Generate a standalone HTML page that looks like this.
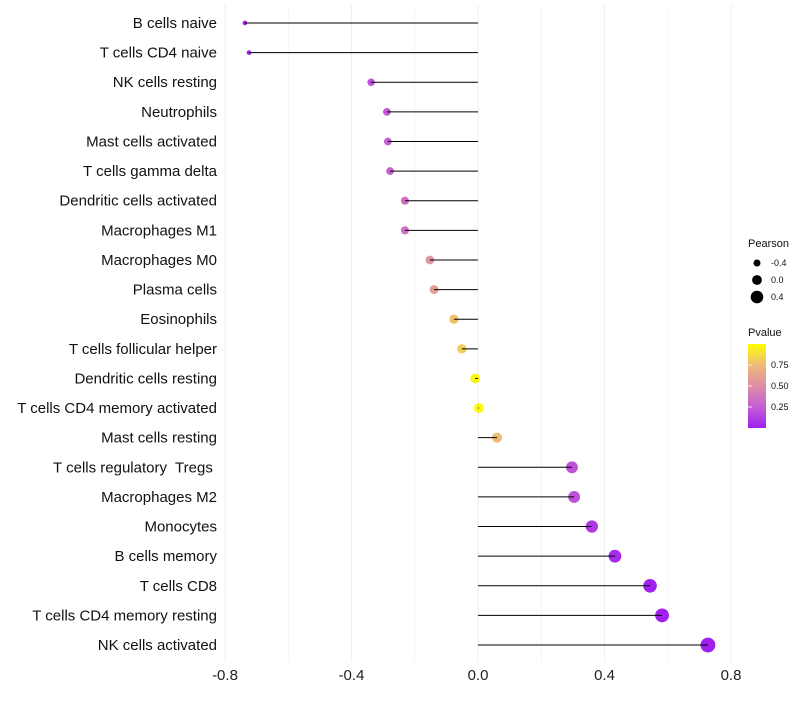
<!DOCTYPE html>
<html><head><meta charset="utf-8"><style>
body{margin:0;background:#fff;}
svg{font-family:"Liberation Sans",sans-serif;}
text{white-space:pre;}
</style></head><body>
<svg id="chart" width="800" height="700"></svg>
<script>
const categories=["B cells naive","T cells CD4 naive","NK cells resting","Neutrophils","Mast cells activated","T cells gamma delta","Dendritic cells activated","Macrophages M1","Macrophages M0","Plasma cells","Eosinophils","T cells follicular helper","Dendritic cells resting","T cells CD4 memory activated","Mast cells resting","T cells regulatory  Tregs ","Macrophages M2","Monocytes","B cells memory","T cells CD8","T cells CD4 memory resting","NK cells activated"];
const pearson=[-0.737,-0.724,-0.338,-0.288,-0.285,-0.278,-0.231,-0.231,-0.152,-0.139,-0.076,-0.051,-0.009,0.003,0.060,0.297,0.304,0.360,0.433,0.544,0.582,0.727];
const pvalue=[0.0,0.0,0.2,0.25,0.25,0.26,0.35,0.35,0.55,0.6,0.78,0.82,0.97,0.99,0.76,0.2,0.2,0.1,0.05,0.01,0.005,0.0];
const xTicks=[-0.8,-0.4,0.0,0.4,0.8];
const sizeLegend=[-0.4,0.0,0.4];
const pTicks=[0.25,0.5,0.75];

const NS="http://www.w3.org/2000/svg";
const svg=document.getElementById('chart');
const x=v=>478+v*316.25;
const y=i=>23+i*29.62;
const r=v=>4.9+3.5*v;
const stops=[[0,[160,32,240]],[0.25,[196,94,211]],[0.5,[220,142,168]],[0.75,[238,185,122]],[1,[255,255,0]]];
function col(p){for(let i=1;i<stops.length;i++){if(p<=stops[i][0]){const a=stops[i-1],b=stops[i];const t=(p-a[0])/(b[0]-a[0]);return 'rgb('+a[1].map((c,k)=>Math.round(c+(b[1][k]-c)*t)).join(',')+')';}}return 'rgb(255,255,0)';}
function el(t,a,txt){const e=document.createElementNS(NS,t);for(const k in a)e.setAttribute(k,a[k]);if(txt!==undefined)e.textContent=txt;svg.appendChild(e);return e;}

for(let v=-0.8;v<=0.81;v+=0.2){
  const g=el('line',{x1:x(v),x2:x(v),y1:5,y2:662,stroke:'#f0f0f0','stroke-width':Math.abs(Math.round(v*10))%4===0?1.1:0.6});
  
  
}
xTicks.forEach(v=>{
  const t=el('text',{x:x(v),y:680,'font-size':15,'text-anchor':'middle',fill:'#222'},v.toFixed(1));
  
  
});
categories.forEach((c,i)=>{
  const t=el('text',{x:217,y:y(i)+5,'font-size':15,'text-anchor':'end',fill:'#111'},c);
  
  
  const d=el('circle',{cx:x(pearson[i]),cy:y(i),r:r(pearson[i]),fill:col(pvalue[i])});
  
  
  const l=el('line',{x1:x(0),x2:x(pearson[i]),y1:y(i),y2:y(i),stroke:'#000','stroke-width':1});
  
  
});
let t=el('text',{x:748,y:247,'font-size':11,fill:'#111'},'Pearson');


sizeLegend.forEach((v,i)=>{
  const c=el('circle',{cx:757,cy:263+i*17,r:r(v),fill:'#000'});
  
  
  const tt=el('text',{x:771,y:266+i*17,'font-size':9,fill:'#111'},v.toFixed(1));
  
  
});
t=el('text',{x:748,y:336,'font-size':11,fill:'#111'},'Pvalue');


const defs=el('defs',{});
const lg=document.createElementNS(NS,'linearGradient');
lg.setAttribute('id','pg');lg.setAttribute('x1','0');lg.setAttribute('y1','1');lg.setAttribute('x2','0');lg.setAttribute('y2','0');
stops.forEach(s=>{const st=document.createElementNS(NS,'stop');st.setAttribute('offset',s[0]);st.setAttribute('stop-color',col(s[0]));lg.appendChild(st);});
defs.appendChild(lg);
const bar=el('rect',{x:748,y:344,width:18,height:84,fill:'url(#pg)'});


pTicks.forEach(p=>{
  const yy=428-p*84;
  const tk=el('line',{x1:748,x2:752,y1:yy,y2:yy,stroke:'#fff','stroke-width':0.8});
  
  
  const tx=el('text',{x:771,y:yy+3,'font-size':9,fill:'#111'},p.toFixed(2));
  
  
});
</script>
</body></html>
